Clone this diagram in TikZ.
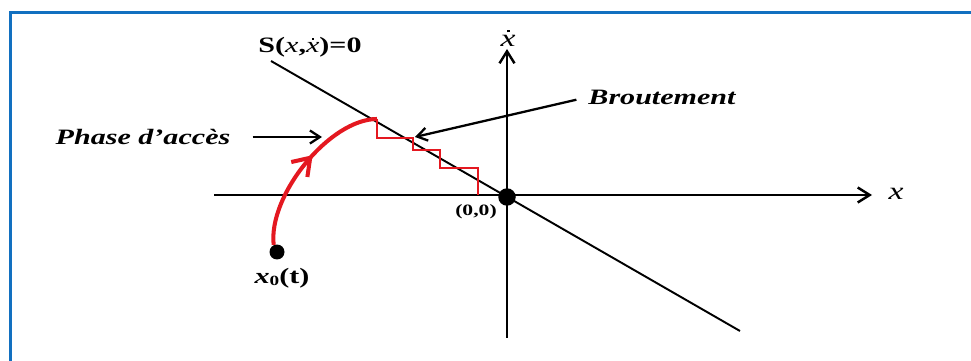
\documentclass[tikz,border=0pt]{standalone}
\usepackage{fontspec}
\setmainfont{Liberation Serif}
\newfontfamily\lblfont[FakeStretch=1.37]{Liberation Serif}
\usepackage{tikz}
\usetikzlibrary{arrows.meta,positioning,calc,decorations.markings}
\definecolor{frameblue}{RGB}{18,112,192}
\definecolor{trajred}{RGB}{228,24,32}
\newcommand{\xdt}{\makebox[0pt][l]{\hspace{0.27em}\raisebox{0.56em}{\rule{0.11em}{0.11em}}}x}

\begin{document}
\begin{tikzpicture}[
  x=0.02cm, y=-0.02cm,
  lbl/.style={font=\lblfont\fontsize{12.5}{14}\selectfont\bfseries, inner sep=0pt},
  small/.style={font=\lblfont\fontsize{9}{10}\selectfont\bfseries, inner sep=0pt},
  axis/.style={line width=1.4pt, -{Straight Barb[length=2.4mm, width=3mm]}},
  surface/.style={line width=1.1pt},
  pointer/.style={line width=1.3pt, -{Straight Barb[length=2mm, width=2.6mm]}},
  dot/.style={circle, fill=black, inner sep=0pt, minimum size=#1},
  stair/.style={draw=trajred, line width=1.4pt},
  traj/.style={draw=trajred, line width=2.3pt,
    postaction={decorate, decoration={markings,
      mark=at position 0.57 with {\arrow[trajred]{Straight Barb[length=3.2mm, width=4.4mm]}}}}},
  frame/.style={draw=frameblue, line width=2pt}
]
\useasboundingbox (0,0) rectangle (971,361);
\draw[frame] (10.5,380) -- (10.5,12.5) -- (990,12.5);

\coordinate (xl) at (214,195);
\coordinate (xr) at (872,195);
\coordinate (yb) at (507,338);
\coordinate (yt) at (507,49);
\coordinate (s1) at (271,61);
\coordinate (s2) at (740,331);
\coordinate (peak) at (377,119);
\coordinate (bt) at (415,137);
\coordinate (pa) at (322,137);

\draw[axis] (xl) -- (xr);
\draw[axis] (yb) -- (yt);
\draw[surface] (s1) -- (s2);

\node[dot=3.5mm] (O) at (507,197) {};
\node[dot=3mm] (x0) at (277,252) {};

\draw[stair] (peak) |- (413,138) |- (440,150) |- (478,168) -- (478,195);
\draw[traj] (x0.115) .. controls (268,195) and (330,119) .. (peak);

\node[lbl] (slab) at (310,47) {S(\textit{\mdseries x},\textit{\mdseries\xdt})=0};
\node[lbl, font=\lblfont\fontsize{14}{16}\selectfont\itshape] (ylab) at (508,38) {\xdt};
\node[lbl, font=\lblfont\fontsize{14}{16}\selectfont\itshape] (xlab) at (896,194) {x};
\node[small] (olab) at (476,212) {(0,0)};
\node[lbl] (x0lab) at (282,278) {\textit{x}\raisebox{-0.1em}{\fontsize{8}{9}\selectfont 0}(t)};
\node[lbl, font=\lblfont\fontsize{12.5}{14}\selectfont\bfseries\itshape] (brout) at (662,97) {Broutement};
\node[lbl, font=\lblfont\fontsize{12.5}{14}\selectfont\bfseries\itshape] (phase) at (143,137) {Phase d’accès};

\draw[pointer, shorten <=2.4mm] (brout.west) -- (bt);
\draw[pointer, shorten <=4.4mm] (phase.east) -- (pa);
\end{tikzpicture}
\end{document}
